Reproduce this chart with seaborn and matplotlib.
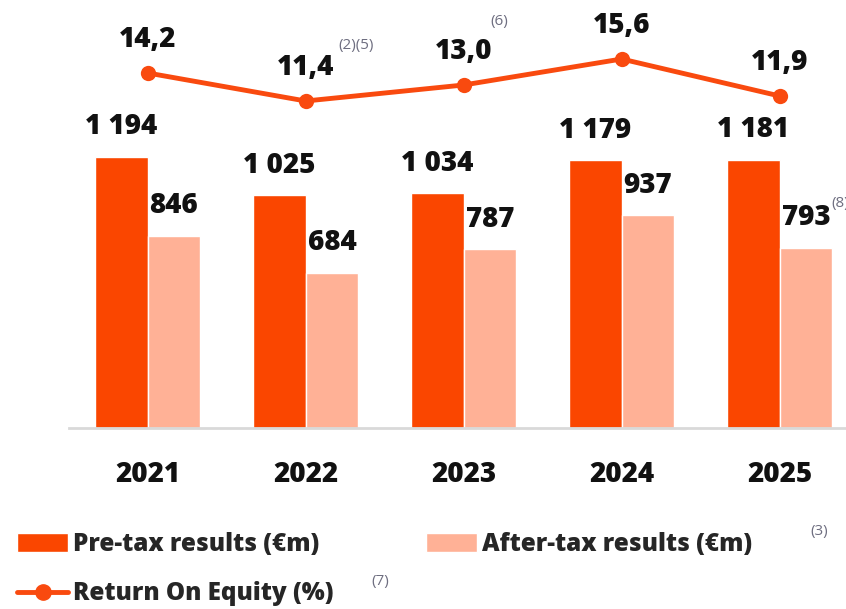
import seaborn as sns
import pandas as pd
import matplotlib.pyplot as plt
from matplotlib.patches import Patch
from matplotlib.lines import Line2D

# --- data ---
years = ['2021', '2022', '2023', '2024', '2025']
pre_tax = [1194, 1025, 1034, 1179, 1181]
after_tax = [846, 684, 787, 937, 793]
roe = [14.2, 11.4, 13.0, 15.6, 11.9]

PRE_COL = '#FA4600'
AFTER_COL = '#FFB196'
LINE_COL = '#F94A0F'
NOTE_COL = '#6E6E80'
TXT = '#111111'

sns.set_style('white')
plt.rcParams['font.family'] = ['Open Sans', 'DejaVu Sans']

df = pd.DataFrame({
    'year': years * 2,
    'value': pre_tax + after_tax,
    'kind': ['Pre-tax results (€m)'] * len(years) + ['After-tax results (€m)'] * len(years),
})

W, H = 846, 609
fig = plt.figure(figsize=(W / 100, H / 100), dpi=100)
ax = fig.add_axes([69 / W, 1 - 428 / H, 1 - 69 / W, (428 - 20) / H])

sns.barplot(data=df, x='year', y='value', hue='kind', order=years,
            hue_order=['Pre-tax results (€m)', 'After-tax results (€m)'],
            palette=[PRE_COL, AFTER_COL], width=0.665, saturation=1,
            legend=False, ax=ax)

ax.set_xlim(-0.498, 4.42)
ax.set_ylim(0, 1795)
for s in ['top', 'right', 'left']:
    ax.spines[s].set_visible(False)
ax.spines['bottom'].set_color('#D9D9D9')
ax.spines['bottom'].set_linewidth(2)
ax.set_yticks([])
ax.set_xlabel('')
ax.set_ylabel('')
ax.tick_params(axis='x', length=0, pad=23)
for lab in ax.get_xticklabels():
    lab.set_fontsize(20)
    lab.set_fontweight('heavy')
    lab.set_color(TXT)

# value labels on bars
for cont in ax.containers:
    labels = [f'{v:,.0f}'.replace(',', ' ') for v in cont.datavalues]
    ax.bar_label(cont, labels=labels, padding=11, fontsize=20,
                 fontweight='heavy', color=TXT)

# ROE line on a twin axis
ax2 = ax.twinx()
pos = list(range(len(years)))
sns.lineplot(x=pos, y=roe, ax=ax2, color=LINE_COL, linewidth=3.5,
             marker='o', markersize=11, markeredgewidth=0)
ax2.set_ylim(-21.3, 19.5)
ax2.set_yticks([])
ax2.set_ylabel('')
for s in ['top', 'right', 'left', 'bottom']:
    ax2.spines[s].set_visible(False)
for x, v in zip(pos, roe):
    ax2.annotate(f'{v:.1f}'.replace('.', ','), (x, v), xytext=(0, 14),
                 textcoords='offset points', ha='center', va='bottom',
                 fontsize=20, fontweight='heavy', color=TXT)

# footnote marks
notes = [('(2)(5)', 338, 45), ('(6)', 490, 21), ('(8)', 831, 204),
         ('(3)', 810, 531), ('(7)', 371, 581)]
for txt, px, py in notes:
    fig.text(px / W, 1 - py / H, txt, fontsize=11, color=NOTE_COL,
             ha='left', va='center')

handles = [
    Patch(facecolor=PRE_COL, label='Pre-tax results (€m)'),
    Line2D([0], [0], color=LINE_COL, linewidth=3.5, marker='o', markersize=11,
           label='Return On Equity (%)'),
    Patch(facecolor=AFTER_COL, label='After-tax results (€m)'),
]
fig.legend(handles=handles, ncol=2, loc='upper left',
           bbox_to_anchor=(17 / W, 1 - 532 / H), frameon=False,
           prop={'size': 17.5, 'weight': 'heavy'}, handlelength=2.1,
           handleheight=0.78, handletextpad=0.2, columnspacing=3.8,
           labelspacing=1.0, borderpad=0, borderaxespad=0)

plt.savefig('out.png', dpi=100)
